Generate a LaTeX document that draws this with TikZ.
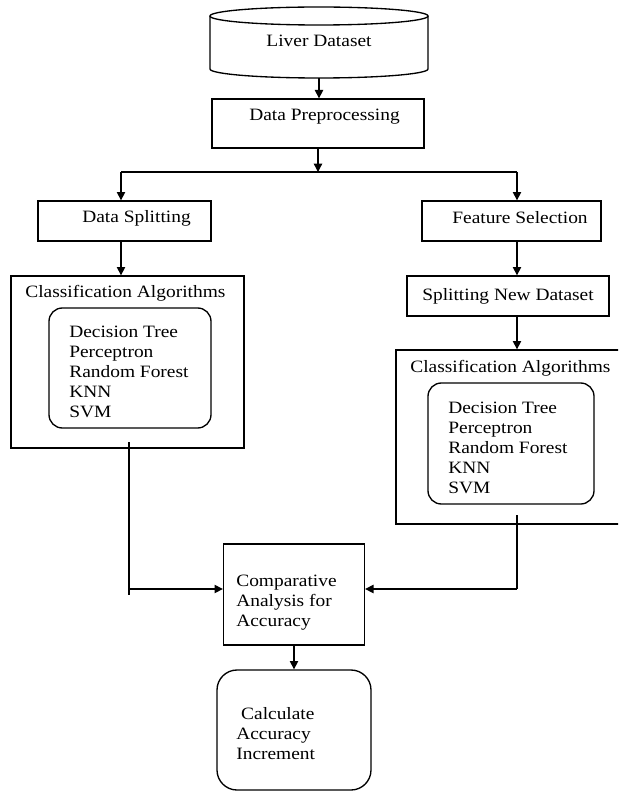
\documentclass[tikz,border=0pt]{standalone}
\usepackage{fontspec}
\setmainfont{Liberation Serif}[FakeStretch=1.12]
\usetikzlibrary{arrows.meta}

\tikzset{
  box/.style={draw,line width=0.8pt,inner sep=0pt},
  rbox/.style={box,rounded corners=8pt},
  txt/.style={anchor=west,inner sep=0pt,align=left},
  ln/.style={line width=0.8pt},
  arr/.style={ln,-{Triangle[length=5pt,width=5pt]}}
}

\begin{document}
\begin{tikzpicture}[x=0.6pt,y=-0.6pt,every node/.style={font=\fontsize{10.4pt}{12pt}\selectfont}]
\useasboundingbox (0,0) rectangle (618,791);
\clip (0,0) rectangle (618,791);
% dataset
\node[minimum width=130.8pt,minimum height=44.4pt,inner sep=0pt] (liver) at (319,41) {Liver Dataset};
\draw[ln] (210,16) -- (210,69) arc[start angle=180,end angle=360,x radius=65.4pt,y radius=5.4pt] -- (428,16);
\draw[ln] (319,16) ellipse [x radius=65.4pt,y radius=5.4pt];
%
\node[box,minimum width=127.2pt,minimum height=29.4pt] (prep) at (318,123.5) {};
\node[txt] (prep-t) at (249,117) {Data Preprocessing};
\coordinate (fork) at (318,172);
\coordinate (forkL) at (121,172);
\coordinate (forkR) at (517,172);
% left branch
\node[box,minimum width=103.8pt,minimum height=24pt] (split) at (124.5,221) {};
\node[txt] (split-t) at (82,218) {Data Splitting};
\node[box,minimum width=139.8pt,minimum height=103.2pt] (cls1) at (127.5,362) {};
\node[txt] (cls1-t) at (25,293) {Classification Algorithms};
\node[rbox,minimum width=97.2pt,minimum height=72pt] (alg1) at (130,368) {};
\node[txt] (alg1-t) at (69,372) {Decision Tree\\Perceptron\\Random Forest\\KNN\\SVM};
% right branch
\node[box,minimum width=107.4pt,minimum height=24pt] (feat) at (511.5,221) {};
\node[txt] (feat-t) at (452,218) {Feature Selection};
\node[box,minimum width=121.2pt,minimum height=24pt] (newsplit) at (508,296) {Splitting New Dataset};
\node[box,minimum width=140.4pt,minimum height=104.4pt] (cls2) at (513,437) {};
\node[txt] (cls2-t) at (410,368) {Classification Algorithms};
\node[rbox,minimum width=99.6pt,minimum height=72.6pt] (alg2) at (511,443.5) {};
\node[txt] (alg2-t) at (448,448) {Decision Tree\\Perceptron\\Random Forest\\KNN\\SVM};
% results
\node[box,minimum width=84.6pt,minimum height=60.6pt] (cmp) at (294,594.5) {};
\node[txt] (cmp-t) at (236,603) {Comparative\\Analysis for\\Accuracy};
\node[rbox,rounded corners=12pt,minimum width=92.4pt,minimum height=72pt] (calc) at (294,730) {};
\node[txt] (calc-t) at (236,734) {\ Calculate\\Accuracy\\Increment};
\coordinate (outL) at (129,442);
\coordinate (joinL) at (129,589);
\coordinate (endL) at (129,595);
\coordinate (outR) at (517,515);
\coordinate (joinR) at (517,589);
%
\draw[arr] (liver.south) -- (liver.south |- prep.north);
\draw[arr] (prep.south) -- (fork);
\draw[ln] (forkL) -- (forkR);
\draw[arr] (forkL) -- (forkL |- split.north);
\draw[arr] (forkR) -- (forkR |- feat.north);
\draw[arr] (forkL |- split.south) -- (forkL |- cls1.north);
\draw[arr] (forkR |- feat.south) -- (forkR |- newsplit.north);
\draw[arr] (forkR |- newsplit.south) -- (forkR |- cls2.north);
\draw[ln] (outL) -- (endL);
\draw[arr] (joinL) -- (joinL -| cmp.west);
\draw[ln] (outR) -- (joinR);
\draw[arr] (joinR) -- (joinR -| cmp.east);
\draw[arr] (cmp.south) -- (calc.north);
\end{tikzpicture}
\end{document}
